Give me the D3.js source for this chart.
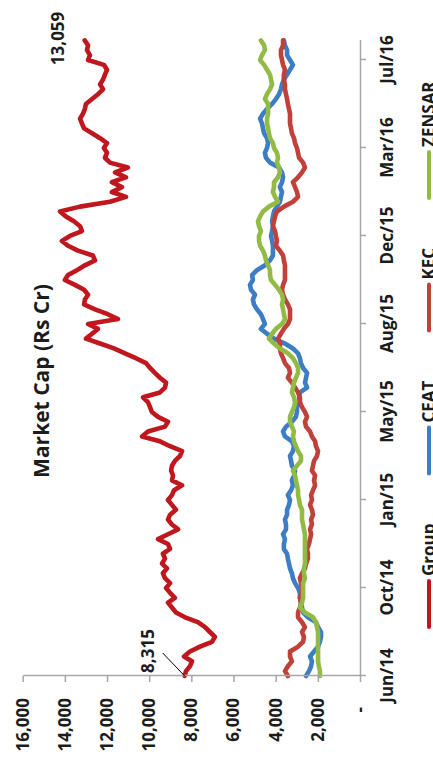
<!DOCTYPE html>
<html><head><meta charset="utf-8">
<script src="https://cdn.jsdelivr.net/npm/d3@7"></script>
<style>
html,body{margin:0;padding:0;background:#fff;overflow:hidden;}
text{font-family:"Open Sans",sans-serif;font-weight:700;fill:#1c1c1c;}
</style></head>
<body>
<script>
// ---- data ----
const dateLabels = ["Jun/14","Oct/14","Jan/15","May/15","Aug/15","Dec/15","Mar/16","Jul/16"];
const dateTickIndex = [0,18,36,54,72,90,108,126];
const valueTicks = [0,2000,4000,6000,8000,10000,12000,14000,16000];
const seriesNames = ["Group","CEAT","KEC","ZENSAR"];
const seriesColors = ["#C0171F","#3C7DC4","#C0403A","#92BB45"];

const group = [8315,8255,8065,7970,8350,8065,7590,7020,6880,7120,
7350,7690,8300,8730,8920,9110,8780,9010,9200,9010,
9250,9350,9160,9390,9250,9350,9010,9110,9580,9110,
8630,8920,9110,9010,8730,8920,9110,8920,8820,8440,
8920,8870,8960,8920,8780,8540,8440,9010,9490,10340,
10060,9250,9110,9580,9870,9960,10060,10290,9490,9250,
9200,9490,9730,9960,10150,10630,11150,11670,12330,13000,
12710,12430,12900,11480,11960,12570,13090,13050,12900,13090,
13520,14000,13850,13430,13050,12570,12670,13380,13850,14140,
13760,13190,13280,13570,13950,14230,13280,11860,11100,11770,
11290,11770,11100,11620,11010,11860,12100,12000,12150,12000,
12330,12710,13090,13190,13280,13140,13050,13000,12710,12430,
12190,12330,12190,12100,12000,12150,12900,12810,12950,12900,
13059];

const ceat = [2560,2420,2320,2280,2370,2180,1990,1900,1850,1850,
1990,2090,2470,2700,2750,2800,2850,2850,2940,3080,
3180,3230,3320,3370,3420,3460,3610,3610,3560,3650,
3510,3510,3560,3460,3460,3370,3320,3420,3270,3180,
3230,3130,3080,3230,3270,3320,3180,3130,3230,3560,
3650,3510,3230,3040,2990,2990,2850,2890,2850,2510,
2610,2560,2510,2700,2800,2850,2940,3180,3560,4080,
4410,4700,4510,4600,4700,4890,5030,5080,4980,5170,
5220,5080,5120,4890,4510,4270,4130,4130,4130,4170,
4220,4170,4130,4170,4130,4080,3940,3800,3750,3700,
3800,3700,3650,3700,3840,4270,4460,4510,4410,4360,
4410,4550,4600,4650,4740,4600,4410,4170,3990,3840,
3750,3700,3610,3460,3320,3180,3320,3460,3460,3560,
3610];

const kec = [3420,3560,3420,3230,3320,3320,2940,2700,2660,2750,
2610,2750,2940,2940,2850,2800,2850,2750,2750,2800,
2850,2750,2610,2560,2470,2470,2510,2420,2370,2320,
2370,2280,2320,2230,2280,2370,2280,2320,2230,2130,
2180,2130,2280,2230,2180,2040,1990,2090,2130,2280,
2370,2560,2610,2510,2610,2750,2850,2850,2940,3080,
3230,3420,3320,3370,3560,3650,3750,3800,3800,3890,
3750,3610,3420,3320,3320,3320,3420,3560,3650,3700,
3650,3560,3560,3560,3560,3610,3650,3800,3990,3940,
3990,4030,4130,4080,4030,3940,3610,3180,2940,2990,
3080,3180,2940,2750,2610,2700,2890,2940,2990,3080,
3130,3230,3270,3320,3320,3320,3370,3420,3460,3510,
3560,3560,3610,3610,3560,3650,3700,3750,3750,3650,
3650];

const zensar = [1900,1900,1950,1990,1990,1990,1990,1990,1990,1990,
2040,2090,2230,2610,2850,2750,2700,2700,2700,2700,
2610,2660,2660,2610,2610,2610,2610,2610,2610,2610,
2660,2700,2750,2750,2750,2850,2890,2940,2940,2990,
3040,3080,3180,2990,2800,2800,2940,3040,3130,3180,
3130,3230,3320,3320,3230,3130,3080,3130,3230,3180,
3130,3040,2940,2940,3040,3180,3420,3800,4080,4320,
4170,3990,3700,3560,3610,3650,3700,3650,3700,3840,
4030,4220,4270,4270,4360,4460,4510,4600,4740,4790,
4790,4700,4790,4840,4740,4600,4320,3890,4030,4130,
4080,4080,3890,3800,3840,3940,3890,3940,4080,4130,
4270,4320,4360,4410,4410,4360,4360,4360,4510,4410,
4270,4170,4220,4270,4410,4550,4740,4650,4510,4550,
4700];

const series = [group, ceat, kec, zensar];

// ---- chart (drawn landscape, then rotated -90deg) ----
const W = 433, H = 761;
const svg = d3.select("body").append("svg").attr("width", W).attr("height", H);
const g = svg.append("g").attr("transform", `translate(0,${H}) rotate(-90)`);

const n = group.length;
const x = d3.scaleLinear().domain([0, n - 1]).range([85, 720.6]);
const y = d3.scaleLinear().domain([0, 16000]).range([360, 22.7]);
const axisColor = "#A6A6A6";

// lines
const line = d3.line().x((d, i) => x(i)).y(d => y(d));
series.forEach((s, k) => {
  g.append("path").datum(s)
    .attr("d", line)
    .attr("fill", "none")
    .attr("stroke", seriesColors[k])
    .attr("stroke-width", 4.6)
    .attr("stroke-linejoin", "round")
    .attr("stroke-linecap", "round");
});

// value axis
const yAxis = g.append("g").attr("transform", "translate(85,0)")
  .call(d3.axisLeft(y).tickValues(valueTicks)
    .tickFormat(d => d === 0 ? "-" : d3.format(",")(d))
    .tickSize(6).tickSizeOuter(0).tickPadding(16));
yAxis.select(".domain").attr("stroke", axisColor).attr("stroke-width", 1.5);
yAxis.selectAll(".tick line").attr("stroke", axisColor).attr("stroke-width", 1.5);
yAxis.selectAll(".tick text").attr("font-size", 17).attr("fill", "#1c1c1c")
  .filter(d => d === 0).attr("x", -31);

// date axis
const xAxis = g.append("g").attr("transform", "translate(0,360)")
  .call(d3.axisBottom(x).tickValues(dateTickIndex)
    .tickFormat((d, i) => dateLabels[i])
    .tickSize(6).tickSizeOuter(0));
xAxis.select(".domain").attr("stroke", axisColor).attr("stroke-width", 1.5);
xAxis.selectAll(".tick line").attr("stroke", axisColor).attr("stroke-width", 1.5);
xAxis.selectAll(".tick text").attr("font-size", 17).attr("fill", "#1c1c1c")
  .attr("y", 33).attr("dy", null);

// title
g.append("text").attr("x", 380).attr("y", 49)
  .attr("text-anchor", "middle").attr("font-size", 21)
  .text("Market Cap (Rs Cr)");

// annotations
const last = n - 1;
g.append("text").attr("x", x(last) + 2).attr("y", y(group[last]) - 21)
  .attr("text-anchor", "middle").attr("font-size", 17)
  .text(d3.format(",")(group[last]));
g.append("line")
  .attr("x1", x(0) + 23).attr("y1", y(group[0]) - 22)
  .attr("x2", x(0)).attr("y2", y(group[0]))
  .attr("stroke", "#000").attr("stroke-width", 1);
g.append("text").attr("x", x(0) + 25).attr("y", y(group[0]) - 31)
  .attr("text-anchor", "middle").attr("font-size", 17)
  .text(d3.format(",")(group[0]));

// legend
const leg = g.append("g").attr("transform", "translate(134,429)");
let cur = 0;
seriesNames.forEach((name, k) => {
  leg.append("line").attr("x1", cur).attr("x2", cur + 46)
    .attr("y1", 0).attr("y2", 0)
    .attr("stroke", seriesColors[k]).attr("stroke-width", 4)
    .attr("stroke-linecap", "round");
  const t = leg.append("text").attr("x", cur + 51).attr("y", 0).attr("dy", "0.36em")
    .attr("font-size", 17).text(name);
  cur += 51 + t.node().getComputedTextLength() + 50;
});
</script>
</body></html>
